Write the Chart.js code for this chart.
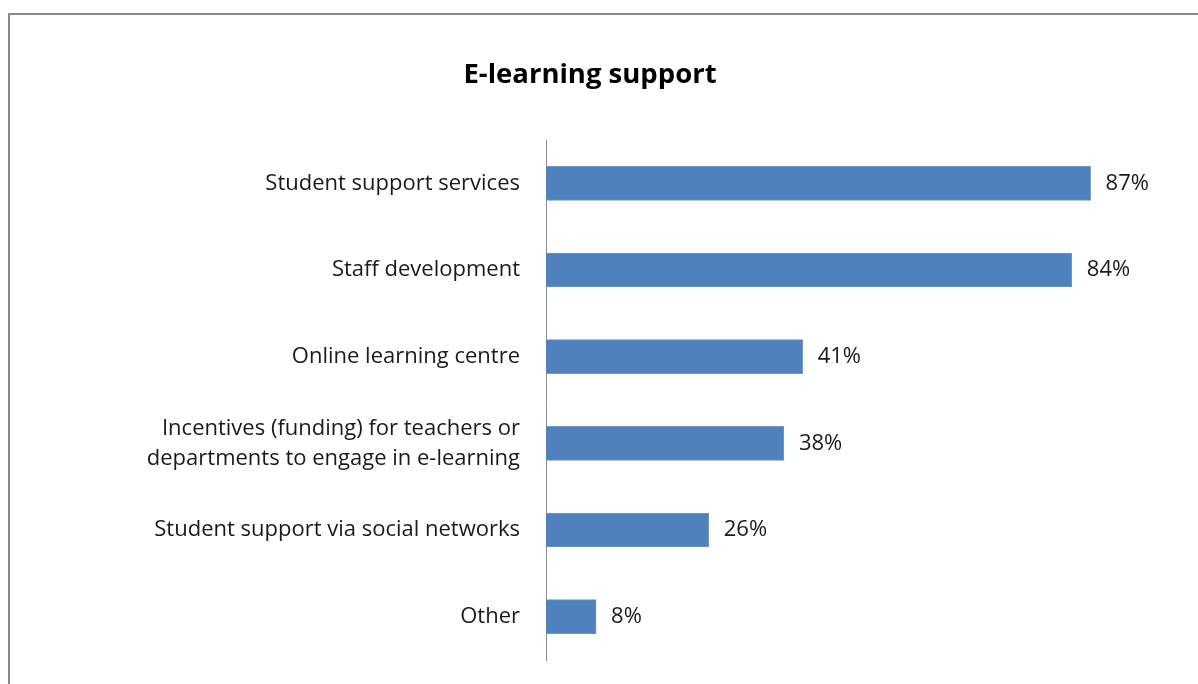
<!DOCTYPE html>
<html>
<head>
<meta charset="utf-8">
<script src="https://cdn.jsdelivr.net/npm/chart.js@4"></script>
<style>
  html, body { margin: 0; padding: 0; background: #fff; overflow: hidden; }
  #frame {
    position: absolute; left: 8px; top: 13px; width: 1300px; height: 800px;
    border-left: 2px solid #888; border-top: 2px solid #888;
  }
  #wrap { position: absolute; left: 0; top: 0; width: 1198px; height: 684px; }
</style>
</head>
<body>
<div id="frame"></div>
<div id="wrap"><canvas id="chart"></canvas></div>
<script>
  // E-learning support, share of respondents (%)
  const CATEGORIES = [
    'Student support services',
    'Staff development',
    'Online learning centre',
    ['Incentives (funding) for teachers or', 'departments to engage in e-learning'],
    'Student support via social networks',
    'Other',
  ];
  const VALUES = [87, 84, 41, 38, 26, 8];

  const BAR_COLOR = '#4F81BD';
  const TEXT_COLOR = '#1a1a1a';
  const FONT = "'Open Sans', Lato, sans-serif";

  // value labels to the right of each bar
  const valueLabels = {
    id: 'valueLabels',
    afterDatasetsDraw(chart) {
      const ctx = chart.ctx;
      const meta = chart.getDatasetMeta(0);
      ctx.save();
      ctx.font = '22px ' + FONT;
      ctx.fillStyle = TEXT_COLOR;
      ctx.textAlign = 'left';
      ctx.textBaseline = 'middle';
      meta.data.forEach((bar, i) => {
        ctx.fillText(VALUES[i] + '%', bar.x + 15, bar.y);
      });
      ctx.restore();
    },
  };

  new Chart(document.getElementById('chart'), {
    type: 'bar',
    data: {
      labels: CATEGORIES,
      datasets: [{
        data: VALUES,
        backgroundColor: BAR_COLOR,
        borderColor: '#6f97c9',
        borderWidth: 1,
        barThickness: 34,
      }],
    },
    options: {
      indexAxis: 'y',
      responsive: true,
      maintainAspectRatio: false,
      animation: false,
      layout: { padding: { left: 8, right: 26, top: 0, bottom: 24 } },
      plugins: {
        legend: { display: false },
        tooltip: { enabled: false },
        title: {
          display: true,
          text: 'E-learning support',
          color: '#000',
          font: { family: FONT, size: 27.5, weight: 'bold', lineHeight: 1.2 },
          padding: { top: 59, bottom: 48 },
        },
      },
      scales: {
        x: {
          display: false,
          min: 0,
          max: 100,
        },
        y: {
          grid: { display: false, drawTicks: false },
          border: { display: true, color: '#8c8c8c', width: 1 },
          ticks: {
            color: TEXT_COLOR,
            padding: 26,
            font: { family: FONT, size: 22, lineHeight: 1.36 },
          },
          afterFit(scale) {
            scale.width = 538;
            // keep the axis running the full plot height
            scale.paddingTop = 0;
            scale.paddingBottom = 0;
          },
        },
      },
    },
    plugins: [valueLabels],
  });
</script>
</body>
</html>
